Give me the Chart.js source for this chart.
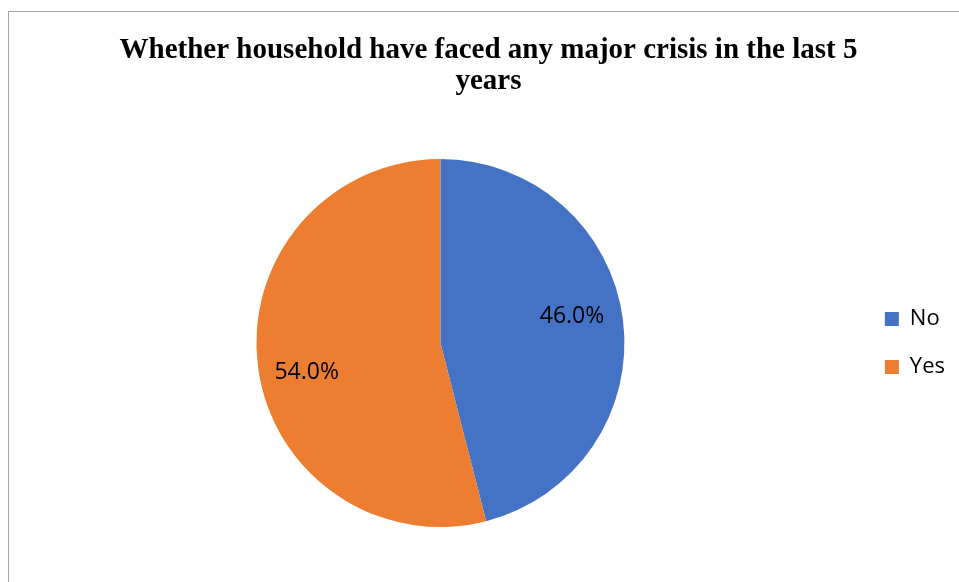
<!DOCTYPE html>
<html>
<head>
<meta charset="utf-8">
<script src="https://cdn.jsdelivr.net/npm/chart.js@4/dist/chart.umd.min.js"></script>
<style>
  html, body { margin: 0; padding: 0; background: #fff; overflow: hidden; }
  body { width: 959px; height: 582px; position: relative; }
  .frame {
    position: absolute; left: 8px; top: 11px;
    width: 1000px; height: 700px;
    border: 1px solid #a6a6a6;
  }
  #crisisPie { position: absolute; left: 22px; top: 12px; }
</style>
</head>
<body>
<div class="frame"></div>
<canvas id="crisisPie" width="933" height="570"></canvas>
<script>
// ============================================================
// Household crisis pie
// ============================================================

const titleLines = ['Whether household have faced any major crisis in the last 5', 'years'];
const categories = ['No', 'Yes'];
const shares = [46.0, 54.0];
const sliceColors = ['#4472C4', '#ED7D31'];

// where each percentage sits inside its slice (fraction of radius, angle nudge in degrees)
const labelPlacement = [
  { radius: 0.73, shift: -4.4 },
  { radius: 0.745, shift: -5.4 },
];

const labelFont = '23px "Open Sans", "Liberation Sans", sans-serif';

const sliceLabels = {
  id: 'sliceLabels',
  afterDatasetsDraw(chart) {
    const { ctx } = chart;
    const meta = chart.getDatasetMeta(0);
    ctx.save();
    ctx.font = labelFont;
    ctx.fillStyle = '#000';
    ctx.textAlign = 'center';
    ctx.textBaseline = 'middle';
    meta.data.forEach((arc, i) => {
      const p = arc.getProps(['x', 'y', 'startAngle', 'endAngle', 'outerRadius'], true);
      const place = labelPlacement[i];
      const mid = (p.startAngle + p.endAngle) / 2 + place.shift * Math.PI / 180;
      const r = p.outerRadius * place.radius;
      const text = chart.data.datasets[0].data[i].toFixed(1) + '%';
      ctx.fillText(text, p.x + Math.cos(mid) * r, p.y + Math.sin(mid) * r);
    });
    ctx.restore();
  },
};

new Chart(document.getElementById('crisisPie'), {
  type: 'pie',
  data: {
    labels: categories,
    datasets: [{
      data: shares,
      backgroundColor: sliceColors,
      borderWidth: 0,
    }],
  },
  options: {
    responsive: false,
    animation: false,
    layout: { padding: { top: 0, bottom: 55, left: 0, right: 0 } },
    plugins: {
      title: {
        display: true,
        text: titleLines,
        color: '#000',
        font: { family: '"Liberation Serif", "Times New Roman", serif', size: 29, weight: 'bold', lineHeight: 31 / 29 },
        padding: { top: 23, bottom: 62 },
      },
      legend: {
        position: 'right',
        fullSize: false,
        labels: {
          color: '#000',
          boxWidth: 14,
          boxHeight: 14,
          padding: 26,
          font: { family: '"Open Sans", "Liberation Sans", sans-serif', size: 22 },
        },
      },
      tooltip: { enabled: false },
    },
  },
  plugins: [sliceLabels],
});
</script>
</body>
</html>
